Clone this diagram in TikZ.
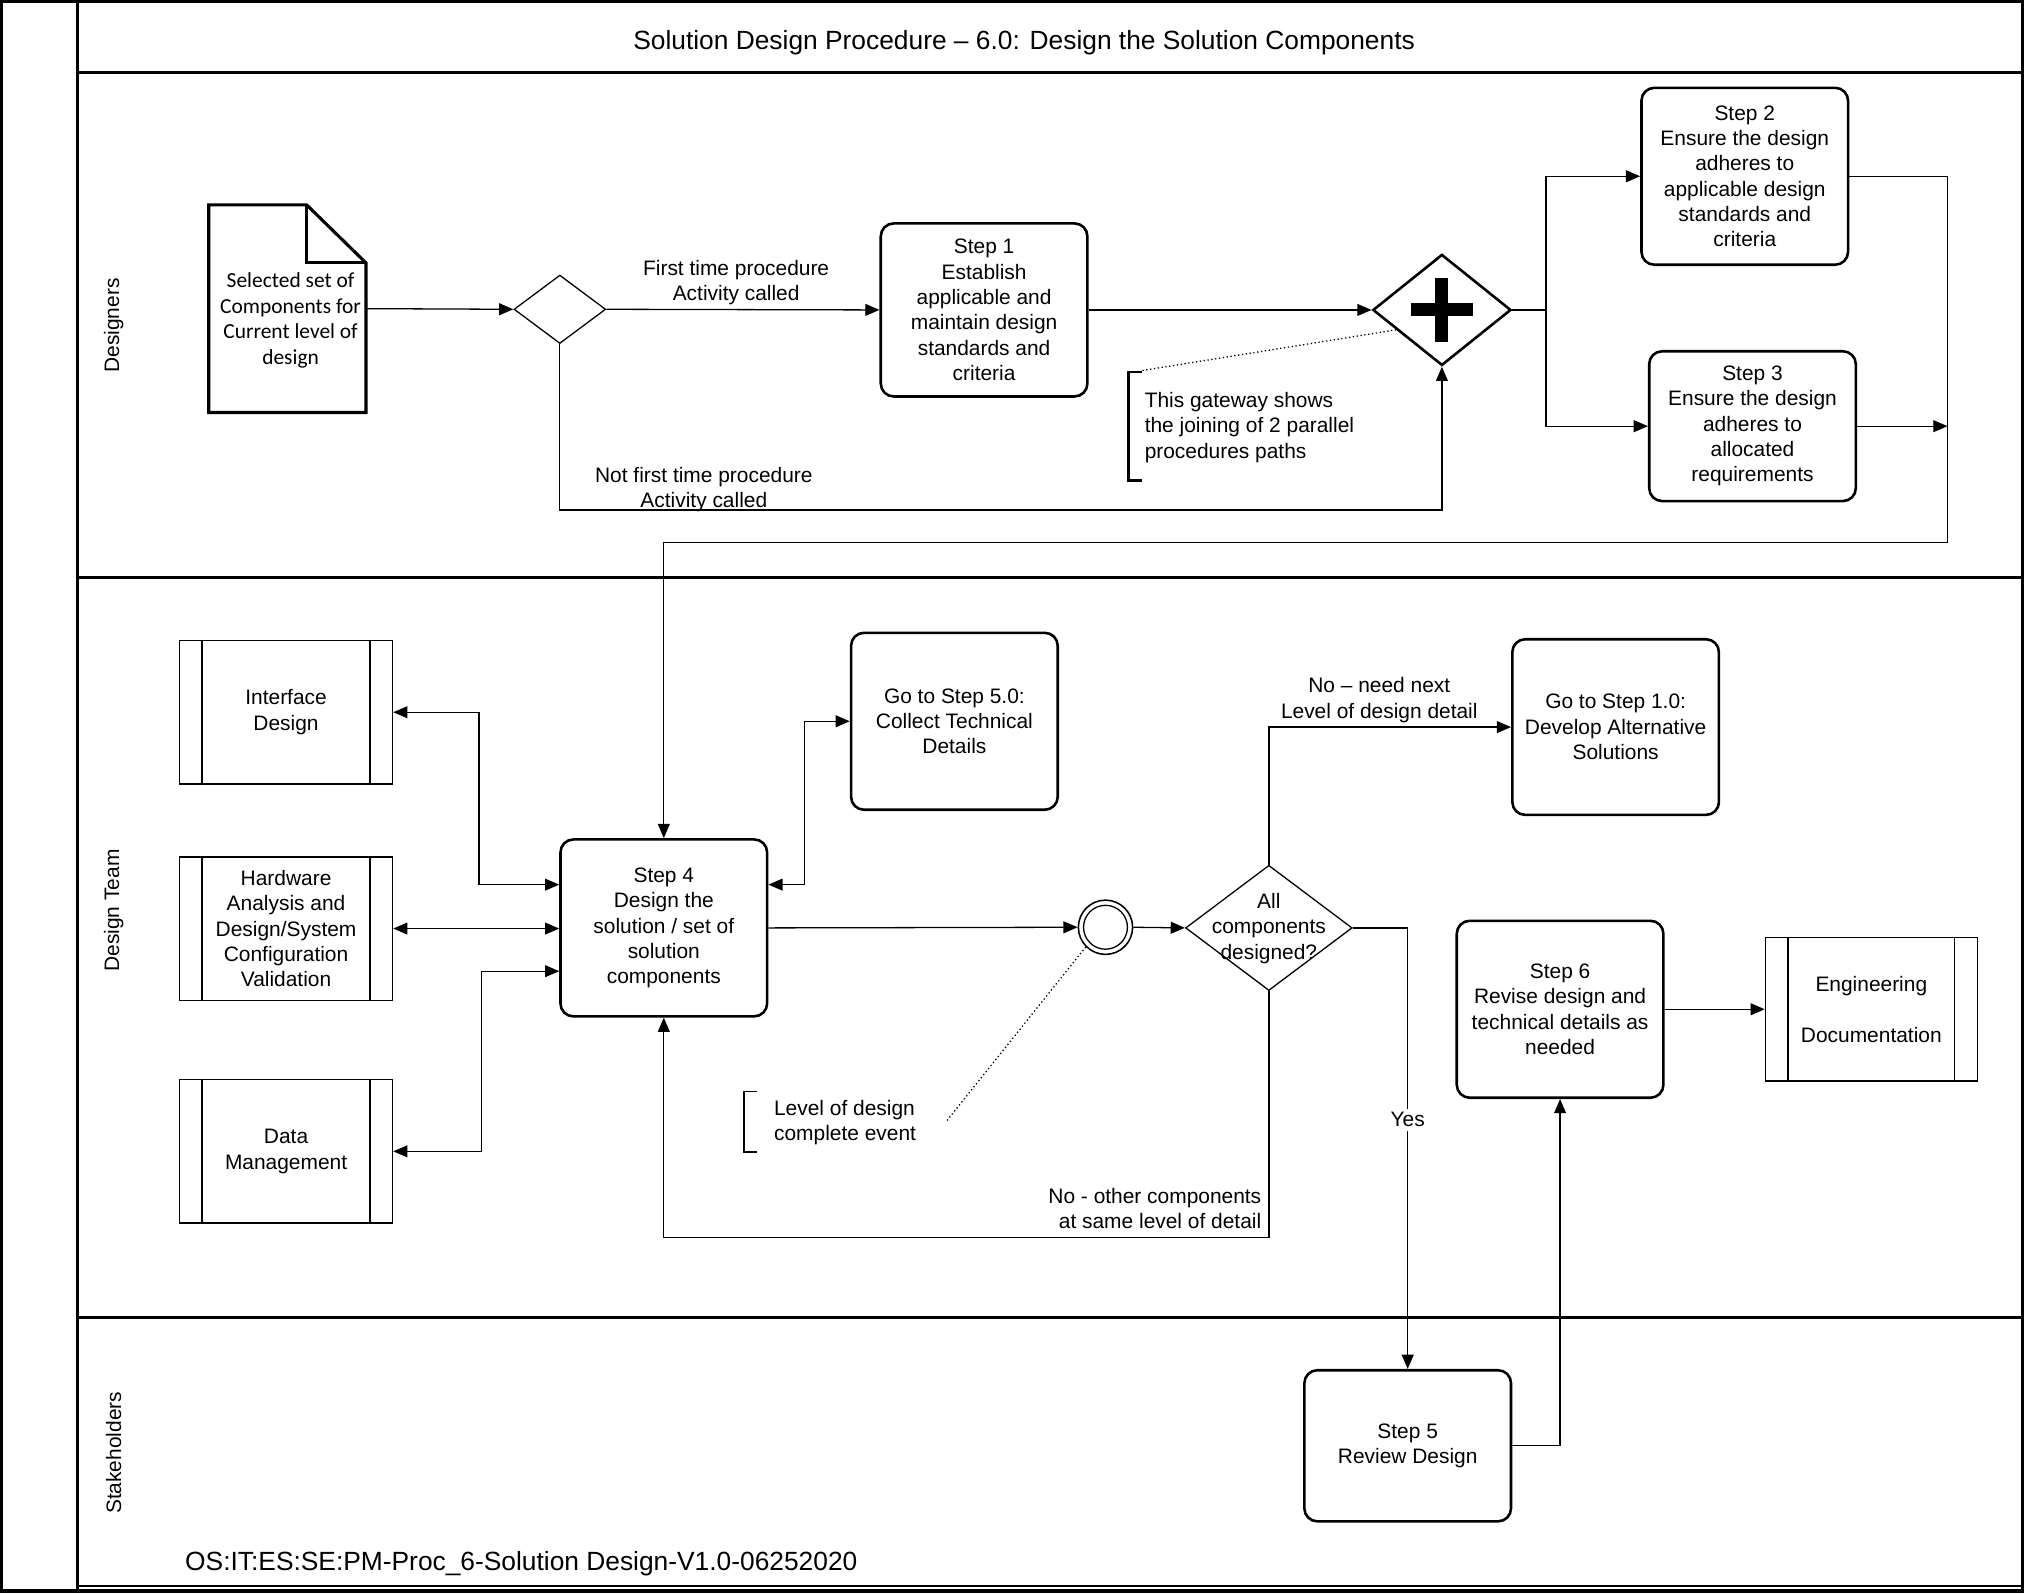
\documentclass[tikz,border=0pt]{standalone}
\usepackage{fontspec}
\setmainfont{Liberation Sans}
\newfontfamily\docfont{Carlito}
\usetikzlibrary{arrows.meta,shapes.geometric,calc}
\begin{document}
\begin{tikzpicture}[x=0.5pt,y=-0.5pt,
  txt/.style={font=\fontsize{8.1}{9.8}\selectfont, align=center, inner sep=0pt},
  task/.style={txt, draw, line width=1pt, rounded corners=5pt, minimum width=80pt},
  subp/.style={txt, draw, line width=0.5pt, minimum width=82.5pt, minimum height=55.5pt},
  gw/.style={draw, diamond, inner sep=0pt},
  arr/.style={line width=0.5pt, -{Triangle[length=5.5pt,width=4.6pt]}},
  arr2/.style={line width=0.5pt, {Triangle[length=5.5pt,width=4.6pt]}-{Triangle[length=5.5pt,width=4.6pt]}},
  lane/.style={line width=1pt},
  note/.style={line width=0.5pt, densely dotted},
  big/.style={font=\fontsize{10.2}{12}\selectfont, inner sep=0pt}
]
\useasboundingbox (0,0) rectangle (1568,1234);

% frame and lanes
\draw[line width=1.5pt] (1,1) rectangle (1566,1232);
\draw[lane] (60,1) -- (60,1232);
\draw[lane] (60,56) -- (1566,56);
\draw[lane] (60,447) -- (1566,447);
\draw[lane] (60,1020) -- (1566,1020);
\draw[lane] (60,1228) -- (1566,1228);

\node[big] (title) at (793,33) {Solution Design Procedure – 6.0: Design the Solution Components};
\node[big, anchor=west] (foot) at (143,1211) {OS:IT:ES:SE:PM-Proc\_6-Solution Design-V1.0-06252020};

\node[txt, rotate=90] (lane1) at (88,252) {Designers};
\node[txt, rotate=90] (lane2) at (88,705) {Design Team};
\node[txt, rotate=90] (lane3) at (88,1125) {Stakeholders};

% document
\node[minimum width=60.5pt, minimum height=80pt, inner sep=0pt] (doc) at (222.5,239) {};
\draw[line width=1.2pt] (doc.north west) -- ($(doc.north east)+(-46,0)$) -- ($(doc.north east)+(0,45)$) -- (doc.south east) -- (doc.south west) -- cycle;
\draw[line width=1.2pt] ($(doc.north east)+(-46,0)$) -- ($(doc.north east)+(-46,45)$) -- ($(doc.north east)+(0,45)$);
\node[txt, font=\docfont\fontsize{8.3}{9.85}\selectfont] (doctext) at (225,248) {Selected set of\\Components for\\Current level of\\design};

% designers lane
\node[gw, line width=0.5pt, minimum width=35.5pt, minimum height=26.5pt] (xg) at (433.5,239.5) {};
\node[task, minimum height=67pt] (s1) at (762,240) {Step 1\\Establish\\applicable and\\maintain design\\standards and\\criteria};
\node[gw, line width=1pt, minimum width=53.5pt, minimum height=43pt] (pg) at (1116.5,240) {};
\draw[line width=5pt] ($(pg.center)+(-24,0)$) -- ($(pg.center)+(24,0)$);
\draw[line width=5pt] ($(pg.center)+(0,-25)$) -- ($(pg.center)+(0,25)$);
\node[task, minimum height=68.5pt] (s2) at (1351,136.5) {Step 2\\Ensure the design\\adheres to\\applicable design\\standards and\\criteria};
\node[task, minimum height=58pt] (s3) at (1357,330) {Step 3\\Ensure the design\\adheres to\\allocated\\requirements};

\node[txt] (lbl1) at (570,219) {First time procedure\\Activity called};
\node[txt] (lbl2) at (545,379) {Not first time procedure\\Activity called};

\node[txt, align=left, anchor=west] (note1) at (886,331) {This gateway shows\\the joining of 2 parallel\\procedures paths};
\draw[line width=1pt] (884,288) -- (874,288) -- (874,372) -- (884,372);
\coordinate (note1top) at (884,287);
\draw[note] ($(pg.west)!0.35!(pg.south)$) -- (note1top);

\coordinate (c1) at (800,395);
\coordinate (sp) at (1197,240);
\coordinate (r1) at (1508,420);
\coordinate (r2) at (1508,330);

\draw[arr] (doc.east) -- (xg.west);
\draw[arr] (xg.east) -- (s1.west);
\draw[arr] (xg.south) |- (c1) -| (pg.south);
\draw[arr] (s1.east) -- (pg.west);
\draw[line width=0.5pt] (pg.east) -- (sp);
\draw[arr] (sp) |- (s2.west);
\draw[arr] (sp) |- (s3.west);
\draw[arr] (s3.east) -- (r2);

% design team lane
\node[subp] (ifd) at (221.5,551.5) {Interface\\Design};
\node[subp] (hw) at (221.5,719) {Hardware\\Analysis and\\Design/System\\Configuration\\Validation};
\node[subp] (dm) at (221.5,891.5) {Data\\Management};
\node[task, minimum height=68.5pt] (s4) at (514,718.5) {Step 4\\Design the\\solution / set of\\solution\\components};
\node[task, minimum height=68.5pt] (g5) at (739,558.5) {Go to Step 5.0:\\Collect Technical\\Details};
\node[circle, draw, line width=0.6pt, minimum size=21pt, inner sep=0pt] (ev) at (856,718) {};
\draw[line width=0.5pt] (ev.center) circle (8.5pt);
\node[gw, line width=0.5pt, minimum width=64.5pt, minimum height=48.5pt] (ad) at (982.5,718.5) {};
\node[txt] (adtext) at (982.5,719) {All\\components\\designed?};
\node[task, minimum height=68pt] (g1) at (1251,563) {Go to Step 1.0:\\Develop Alternative\\Solutions};
\node[task, minimum height=68.5pt] (s6) at (1208,781.5) {Step 6\\Revise design and\\technical details as\\needed};
\node[subp, minimum width=82pt] (ed) at (1449,781.5) {Engineering\\[9.8pt]Documentation};

\foreach \n in {ifd,hw,dm,ed} {
  \draw[line width=0.5pt] ($(\n.north west)+(18,0)$) -- ($(\n.south west)+(18,0)$);
  \draw[line width=0.5pt] ($(\n.north east)+(-18,0)$) -- ($(\n.south east)+(-18,0)$);
}

\node[txt, align=left, anchor=west] (note2) at (599,869) {Level of design\\complete event};
\draw[line width=0.5pt] (586,845) -- (576,845) -- (576,892) -- (586,892);
\coordinate (note2end) at (733,868);
\draw[note] (ev.225) -- (note2end);

\node[txt] (lbl3) at (1068,542) {No – need next\\Level of design detail};
\node[txt, align=right, anchor=east] (lbl4) at (977,936) {No - other components\\at same level of detail};

% stakeholders lane
\node[task, minimum height=58.5pt] (s5) at (1090,1119.5) {Step 5\\Review Design};

\coordinate (b1) at (982.5,958);

\draw[arr] (s2.east) -| (r1) -| (s4.north);
\draw[arr2] (ifd.east) -| (371,685) -- ($(s4.west)+(0,-33.5)$);
\draw[arr2] (hw.east) -- (hw.east -| s4.west);
\draw[arr2] (dm.east) -| (373,752) -- ($(s4.west)+(0,33.5)$);
\draw[arr2] ($(s4.east)+(0,-33.5)$) -| (623,558.5) -- (g5.west);
\draw[arr] (s4.east) -- (ev.west);
\draw[arr] (ev.east) -- (ad.west);
\draw[arr] (ad.north) |- (g1.west);
\draw[arr] (ad.south) -- (b1) -| (s4.south);
\draw[arr] (ad.east) -| (s5.north);
\node[txt, fill=white, inner sep=1.5pt] (yes) at (1090,867) {Yes};
\draw[arr] (s5.east) -| (s6.south);
\draw[arr] (s6.east) -- (ed.west);
\end{tikzpicture}
\end{document}
